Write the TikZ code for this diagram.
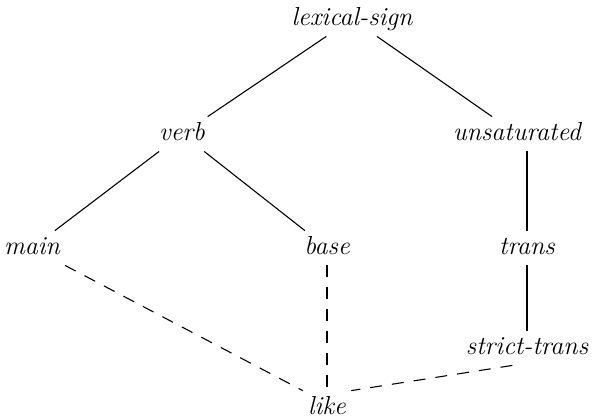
\documentclass[tikz,border=0pt]{standalone}
\begin{document}
\begin{tikzpicture}[x=0.5pt,y=-0.5pt,
  lbl/.style={font=\fontsize{13}{15.5}\selectfont\itshape, anchor=base, inner sep=2.5pt, text height=9pt, text depth=3pt},
  edge/.style={line width=0.55pt},
  dedge/.style={line width=0.55pt, dash pattern=on 6pt off 5pt}]
\useasboundingbox (0,0) rectangle (592,419);
\node[lbl] (lex) at (352,25) {lexical-sign};
\node[lbl] (verb) at (182,140) {verb};
\node[lbl] (unsat) at (517,140) {unsaturated};
\node[lbl] (main) at (32,254) {main};
\node[lbl] (base) at (327,254) {base};
\node[lbl] (trans) at (527,254) {trans};
\node[lbl] (strict) at (527,354) {strict-trans};
\node[lbl] (like) at (327,414) {like};
\draw[edge] (lex) -- (verb);
\draw[edge] (lex) -- (unsat);
\draw[edge] (verb) -- (main);
\draw[edge] (verb) -- (base);
\draw[edge] (trans |- unsat.south) -- (trans.north);
\draw[edge] (trans.south) -- (strict.north);
\draw[dedge] (main) -- (like.north west);
\draw[dedge] (base.south) -- (like.north);
\draw[dedge] (strict.230) -- (like.north east);
\end{tikzpicture}
\end{document}
